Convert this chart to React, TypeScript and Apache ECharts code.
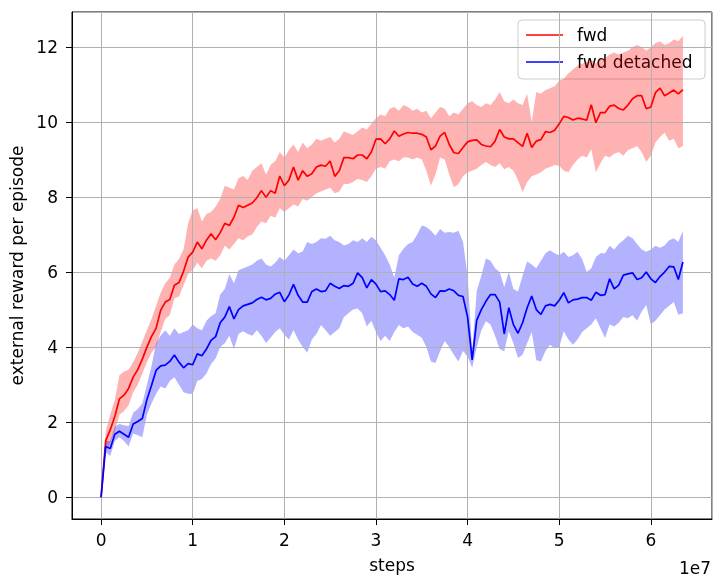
import React, { useEffect, useRef } from "react";
import * as echarts from "echarts";

// Training steps are logged every 5e5 steps.
const STEP_SIZE = 5e5;

const RED_MEAN = [
  0, 1.5, 1.8, 2.15, 2.62, 2.72, 2.9, 3.2, 3.4, 3.68,
  4.0, 4.28, 4.5, 4.98, 5.2, 5.27, 5.65, 5.72, 6.02, 6.4,
  6.53, 6.8, 6.62, 6.85, 7.02, 6.86, 7.05, 7.3, 7.24, 7.46,
  7.78, 7.72, 7.78, 7.84, 7.98, 8.17, 7.99, 8.17, 8.1, 8.56,
  8.3, 8.45, 8.8, 8.45, 8.7, 8.55, 8.62, 8.8, 8.85, 8.82,
  8.96, 8.55, 8.7, 9.05, 9.05, 9.02, 9.12, 9.12, 9.02, 9.2,
  9.54, 9.55, 9.42, 9.55, 9.76, 9.62, 9.68, 9.72, 9.7, 9.7,
  9.67, 9.6, 9.26, 9.36, 9.62, 9.72, 9.4, 9.18, 9.16, 9.32,
  9.47, 9.51, 9.52, 9.4, 9.36, 9.34, 9.49, 9.8, 9.6, 9.55,
  9.55, 9.45, 9.35, 9.7, 9.32, 9.49, 9.53, 9.74, 9.72, 9.78,
  9.95, 10.15, 10.12, 10.05, 10.1, 10.08, 10.05, 10.46, 9.98, 10.25,
  10.25, 10.42, 10.45, 10.36, 10.32, 10.45, 10.62, 10.7, 10.7, 10.35,
  10.4, 10.78, 10.9, 10.7, 10.77, 10.85, 10.75, 10.86,
];

const RED_HIGH = [
  0, 1.75, 2.2, 2.6, 3.25, 3.35, 3.4, 3.6, 3.85, 4.15,
  4.45, 4.75, 5.1, 5.45, 5.7, 5.85, 6.2, 6.35, 6.6, 7.3,
  7.65, 7.7, 7.35, 7.55, 7.6, 7.75, 7.95, 8.3, 8.25, 8.2,
  8.5, 8.56, 8.45, 8.7, 8.8, 8.9, 8.6, 8.85, 8.95, 9.2,
  9.05, 9.25, 9.4, 9.2, 9.45, 9.3, 9.4, 9.55, 9.5, 9.55,
  9.6, 9.45, 9.55, 9.75, 9.7, 9.65, 9.75, 9.85, 9.8, 9.95,
  10.1, 10.2, 10.15, 10.35, 10.4, 10.3, 10.45, 10.4, 10.3, 10.35,
  10.25, 10.3, 10.1, 10.25, 10.4, 10.35, 10.15, 10.25, 10.2, 10.35,
  10.5, 10.55, 10.45, 10.4, 10.5, 10.45, 10.6, 10.8, 10.55, 10.5,
  10.6, 10.5, 10.45, 10.75, 10.0, 10.8, 10.75, 10.85, 10.9, 10.95,
  11.1, 11.15, 11.3, 11.4, 11.5, 11.55, 11.6, 11.65, 11.55, 11.7,
  11.7, 11.8, 11.85, 11.8, 11.85, 11.9, 12.0, 12.05, 12.0, 11.9,
  12.0, 12.1, 12.15, 12.05, 12.1, 12.2, 12.15, 12.3,
];

const RED_LOW = [
  0, 1.25, 1.45, 1.75, 2.2, 2.3, 2.45, 2.8, 3.0, 3.3,
  3.6, 3.85, 4.0, 4.4, 4.75, 4.85, 5.3, 5.35, 5.65, 5.95,
  6.05, 6.25, 6.1, 6.3, 6.36, 6.3, 6.45, 6.7, 6.6, 6.75,
  6.9, 6.85, 6.95, 7.0, 7.2, 7.35, 7.3, 7.5, 7.45, 7.7,
  7.6, 7.7, 7.8, 7.75, 7.95, 7.9, 8.0, 8.1, 8.15, 8.2,
  8.25, 8.1, 8.15, 8.35, 8.35, 8.4, 8.48, 8.45, 8.4, 8.55,
  8.75, 8.8, 8.75, 8.95, 9.0, 8.95, 9.05, 9.05, 9.0, 9.05,
  9.0, 8.7, 8.3, 8.6, 9.05, 9.0, 8.6, 8.26, 8.35, 8.55,
  8.66, 8.7, 8.75, 8.85, 8.93, 8.85, 8.8, 8.9, 8.74, 8.8,
  8.7, 8.45, 8.13, 8.4, 8.55, 8.6, 8.66, 8.75, 8.8, 8.85,
  8.83, 8.7, 8.66, 8.85, 9.0, 9.1, 9.05, 9.27, 8.66, 8.9,
  9.1, 9.05, 9.15, 9.2, 9.1, 9.25, 9.3, 9.36, 9.2, 8.93,
  9.1, 9.45, 9.6, 9.71, 9.5, 9.55, 9.3, 9.36,
];

const BLUE_MEAN = [
  0, 1.35, 1.3, 1.68, 1.76, 1.68, 1.6, 1.95, 2.02, 2.1,
  2.6, 2.98, 3.38, 3.5, 3.52, 3.62, 3.79, 3.6, 3.45, 3.56,
  3.53, 3.82, 3.77, 3.95, 4.18, 4.28, 4.65, 4.8, 5.08, 4.75,
  5.0, 5.1, 5.14, 5.18, 5.27, 5.33, 5.26, 5.3, 5.41, 5.46,
  5.21, 5.39, 5.67, 5.38, 5.2, 5.2, 5.48, 5.55, 5.48, 5.5,
  5.7, 5.62, 5.56, 5.64, 5.62, 5.7, 5.98, 5.85, 5.58, 5.8,
  5.68, 5.48, 5.5, 5.4, 5.25, 5.82, 5.8, 5.86, 5.68, 5.62,
  5.7, 5.62, 5.42, 5.32, 5.5, 5.49, 5.55, 5.5, 5.38, 5.35,
  4.8, 3.66, 4.72, 5.0, 5.22, 5.4, 5.4, 5.2, 4.35, 5.05,
  4.6, 4.37, 4.65, 5.05, 5.36, 5.0, 4.87, 5.1, 5.14, 5.1,
  5.25, 5.45, 5.18, 5.26, 5.28, 5.32, 5.32, 5.25, 5.46, 5.38,
  5.4, 5.82, 5.55, 5.65, 5.92, 5.95, 5.98, 5.8, 5.85, 6.0,
  5.82, 5.72, 5.88, 6.0, 6.15, 6.14, 5.8, 6.27,
];

const BLUE_HIGH = [
  0, 1.5, 1.5, 1.88, 1.95, 1.92, 1.9, 2.25, 2.35, 2.5,
  3.0, 3.5, 4.1, 4.3, 4.45, 4.3, 4.5, 4.35, 4.4, 4.45,
  4.6, 4.5, 4.45, 4.7, 4.82, 4.9, 5.4, 5.55, 5.95, 5.7,
  6.05, 6.1, 6.15, 6.2, 6.3, 6.36, 6.2, 6.15, 6.25, 6.4,
  6.3, 6.45, 6.6, 6.5, 6.55, 6.8, 6.75, 6.8, 6.9, 6.89,
  6.97, 6.85, 6.8, 6.71, 6.75, 6.85, 6.8, 6.9, 6.8, 6.94,
  6.85, 6.65, 6.45, 6.2, 5.85, 6.45, 6.62, 6.75, 6.8, 7.0,
  7.24, 7.2, 7.1, 6.97, 7.15, 7.05, 7.07, 7.05, 7.1, 6.8,
  5.9, 3.9, 5.5, 5.9, 6.36, 6.3, 6.1, 6.0, 5.6, 6.0,
  5.55, 5.48, 5.9, 6.28, 6.2, 6.1, 6.3, 6.5, 6.58, 6.5,
  6.45, 6.54, 6.4, 6.45, 6.54, 6.35, 6.0, 6.1, 6.4, 6.5,
  6.5, 6.7, 6.6, 6.75, 6.85, 6.97, 6.9, 6.75, 6.6, 6.54,
  6.6, 6.7, 6.65, 6.71, 6.85, 6.9, 6.8, 7.1,
];

const BLUE_LOW = [
  0, 1.2, 1.1, 1.5, 1.6, 1.5, 1.35, 1.7, 1.65, 1.6,
  2.2, 2.5, 2.75, 2.95, 2.9, 3.1, 3.2, 3.0, 2.8, 2.76,
  2.75, 3.1, 3.15, 3.3, 3.55, 3.7, 4.0, 4.1, 4.3, 3.95,
  4.35, 4.42, 4.35, 4.3, 4.45, 4.3, 4.11, 4.25, 4.4, 4.5,
  4.33, 4.2, 4.45, 4.2, 4.0, 3.85, 4.2, 4.35, 4.59, 4.45,
  4.3, 4.4, 4.5, 4.8, 4.9, 5.0, 5.03, 4.9, 4.55, 4.7,
  4.4, 4.16, 4.3, 4.16, 4.4, 4.59, 4.5, 4.55, 4.4, 4.33,
  4.25, 4.0, 3.62, 3.58, 3.9, 4.16, 4.0, 3.8, 3.62, 3.9,
  3.75, 3.45, 4.0, 4.45, 4.69, 4.6, 4.3, 3.95, 3.89, 4.42,
  4.1, 3.71, 3.8, 4.1, 4.4, 3.65, 3.62, 3.9, 4.06, 3.97,
  4.0, 4.42, 4.2, 4.06, 4.2, 4.4, 4.5, 4.6, 4.77, 4.5,
  4.24, 4.6, 4.55, 4.65, 4.8, 4.77, 4.85, 4.7, 4.95, 5.12,
  4.6, 4.7, 4.85, 5.0, 5.1, 5.2, 4.86, 4.9,
];

const STEPS = RED_MEAN.map((_, i) => i * STEP_SIZE);

const X_TICKS = ["0", "1", "2", "3", "4", "5", "6"];
const Y_TICKS = ["0", "2", "4", "6", "8", "10", "12"];

const SERIES_NAMES = ["fwd", "fwd detached"];
const COLORS = ["#ff0000", "#0000ff"];
const BAND_COLORS = ["rgba(255,0,0,0.3)", "rgba(0,0,255,0.3)"];

const FONT = "DejaVu Sans";
const FONT_SIZE = 17;

// Axis limits with 5% padding around the data extent.
const X_MIN = -0.3175e7;
const X_MAX = 6.6675e7;
const Y_MIN = -0.58;
const Y_MAX = 12.93;

function bandSeries(name: string, hi: number[], lo: number[], color: string) {
  return {
    type: "custom",
    name: name + " band",
    z: 1,
    silent: true,
    data: [[0, 0]],
    renderItem: (_params: any, api: any) => {
      const pts: number[][] = [];
      for (let i = 0; i < STEPS.length; i++) pts.push(api.coord([STEPS[i], hi[i]]));
      for (let i = STEPS.length - 1; i >= 0; i--) pts.push(api.coord([STEPS[i], lo[i]]));
      return { type: "polygon", shape: { points: pts }, style: { fill: color } };
    },
  };
}

function lineSeries(name: string, values: number[], color: string) {
  return {
    type: "line",
    name,
    z: 3,
    symbol: "none",
    data: STEPS.map((s, i) => [s, values[i]]),
    lineStyle: { color, width: 1.7 },
  };
}

export default function App() {
  const ref = useRef<HTMLDivElement>(null);

  useEffect(() => {
    if (!ref.current) return;
    const chart = echarts.init(ref.current, undefined, { renderer: "svg" });

    const xLabel = (v: number) => {
      const k = Math.round(v / 1e7);
      return Math.abs(v - k * 1e7) < 1 && X_TICKS.includes(String(k)) ? String(k) : "";
    };
    const yLabel = (v: number) => {
      const s = String(Math.round(v));
      return Math.abs(v - Math.round(v)) < 1e-9 && Y_TICKS.includes(s) ? s : "";
    };

    const legendX = 518;
    const legendY = 20;

    chart.setOption({
      animation: false,
      grid: {
        left: 72,
        top: 12,
        right: 1,
        bottom: 56,
        show: true,
        borderColor: "#000",
        borderWidth: 1,
        backgroundColor: "transparent",
      },
      xAxis: {
        type: "value",
        min: X_MIN,
        max: X_MAX,
        splitNumber: 6,
        z: 2,
        name: "steps",
        nameLocation: "middle",
        nameGap: 37,
        nameTextStyle: { fontFamily: FONT, fontSize: FONT_SIZE, color: "#000" },
        axisLine: { show: true, onZero: false, lineStyle: { color: "#000", width: 1 } },
        axisTick: { show: true, length: 6, lineStyle: { color: "#000", width: 1 } },
        axisLabel: {
          showMinLabel: false,
          showMaxLabel: false,
          margin: 12,
          fontFamily: FONT,
          fontSize: FONT_SIZE,
          color: "#000",
          formatter: xLabel,
        },
        splitLine: { show: true, lineStyle: { color: "#b0b0b0", width: 1 } },
      },
      yAxis: {
        type: "value",
        min: Y_MIN,
        max: Y_MAX,
        splitNumber: 7,
        z: 2,
        name: "external reward per episode",
        nameLocation: "middle",
        nameGap: 45,
        nameTextStyle: { fontFamily: FONT, fontSize: FONT_SIZE, color: "#000" },
        axisLine: { show: true, onZero: false, lineStyle: { color: "#000", width: 1 } },
        axisTick: { show: true, length: 6, lineStyle: { color: "#000", width: 1 } },
        axisLabel: {
          showMinLabel: false,
          showMaxLabel: false,
          margin: 14,
          fontFamily: FONT,
          fontSize: FONT_SIZE,
          color: "#000",
          formatter: yLabel,
        },
        splitLine: { show: true, lineStyle: { color: "#b0b0b0", width: 1 } },
      },
      series: [
        bandSeries(SERIES_NAMES[0], RED_HIGH, RED_LOW, BAND_COLORS[0]),
        bandSeries(SERIES_NAMES[1], BLUE_HIGH, BLUE_LOW, BAND_COLORS[1]),
        lineSeries(SERIES_NAMES[0], RED_MEAN, COLORS[0]),
        lineSeries(SERIES_NAMES[1], BLUE_MEAN, COLORS[1]),
      ],
      graphic: [
        {
          type: "group",
          z: 10,
          children: [
            {
              type: "rect",
              shape: { x: legendX, y: legendY, width: 187, height: 59, r: 4 },
              style: { fill: "rgba(255,255,255,0.8)", stroke: "#cccccc", lineWidth: 1 },
            },
            ...SERIES_NAMES.flatMap((name, i) => {
              const cy = legendY + 15 + i * 27;
              return [
                {
                  type: "line",
                  shape: { x1: legendX + 8, y1: cy, x2: legendX + 45, y2: cy },
                  style: { stroke: COLORS[i], lineWidth: 1.7 },
                },
                {
                  type: "text",
                  x: legendX + 59,
                  y: cy,
                  style: {
                    text: name,
                    fontFamily: FONT,
                    fontSize: FONT_SIZE,
                    fill: "#000",
                    verticalAlign: "middle",
                    align: "left",
                  },
                },
              ];
            }),
          ],
        },
        {
          type: "text",
          x: 711,
          y: 568,
          z: 10,
          style: {
            text: "1e7",
            fontFamily: FONT,
            fontSize: FONT_SIZE,
            fill: "#000",
            verticalAlign: "middle",
            align: "right",
          },
        },
      ],
    });

    return () => chart.dispose();
  }, []);

  return (
    <div
      ref={ref}
      style={{ position: "fixed", left: 0, top: 0, width: 713, height: 578 }}
    />
  );
}
